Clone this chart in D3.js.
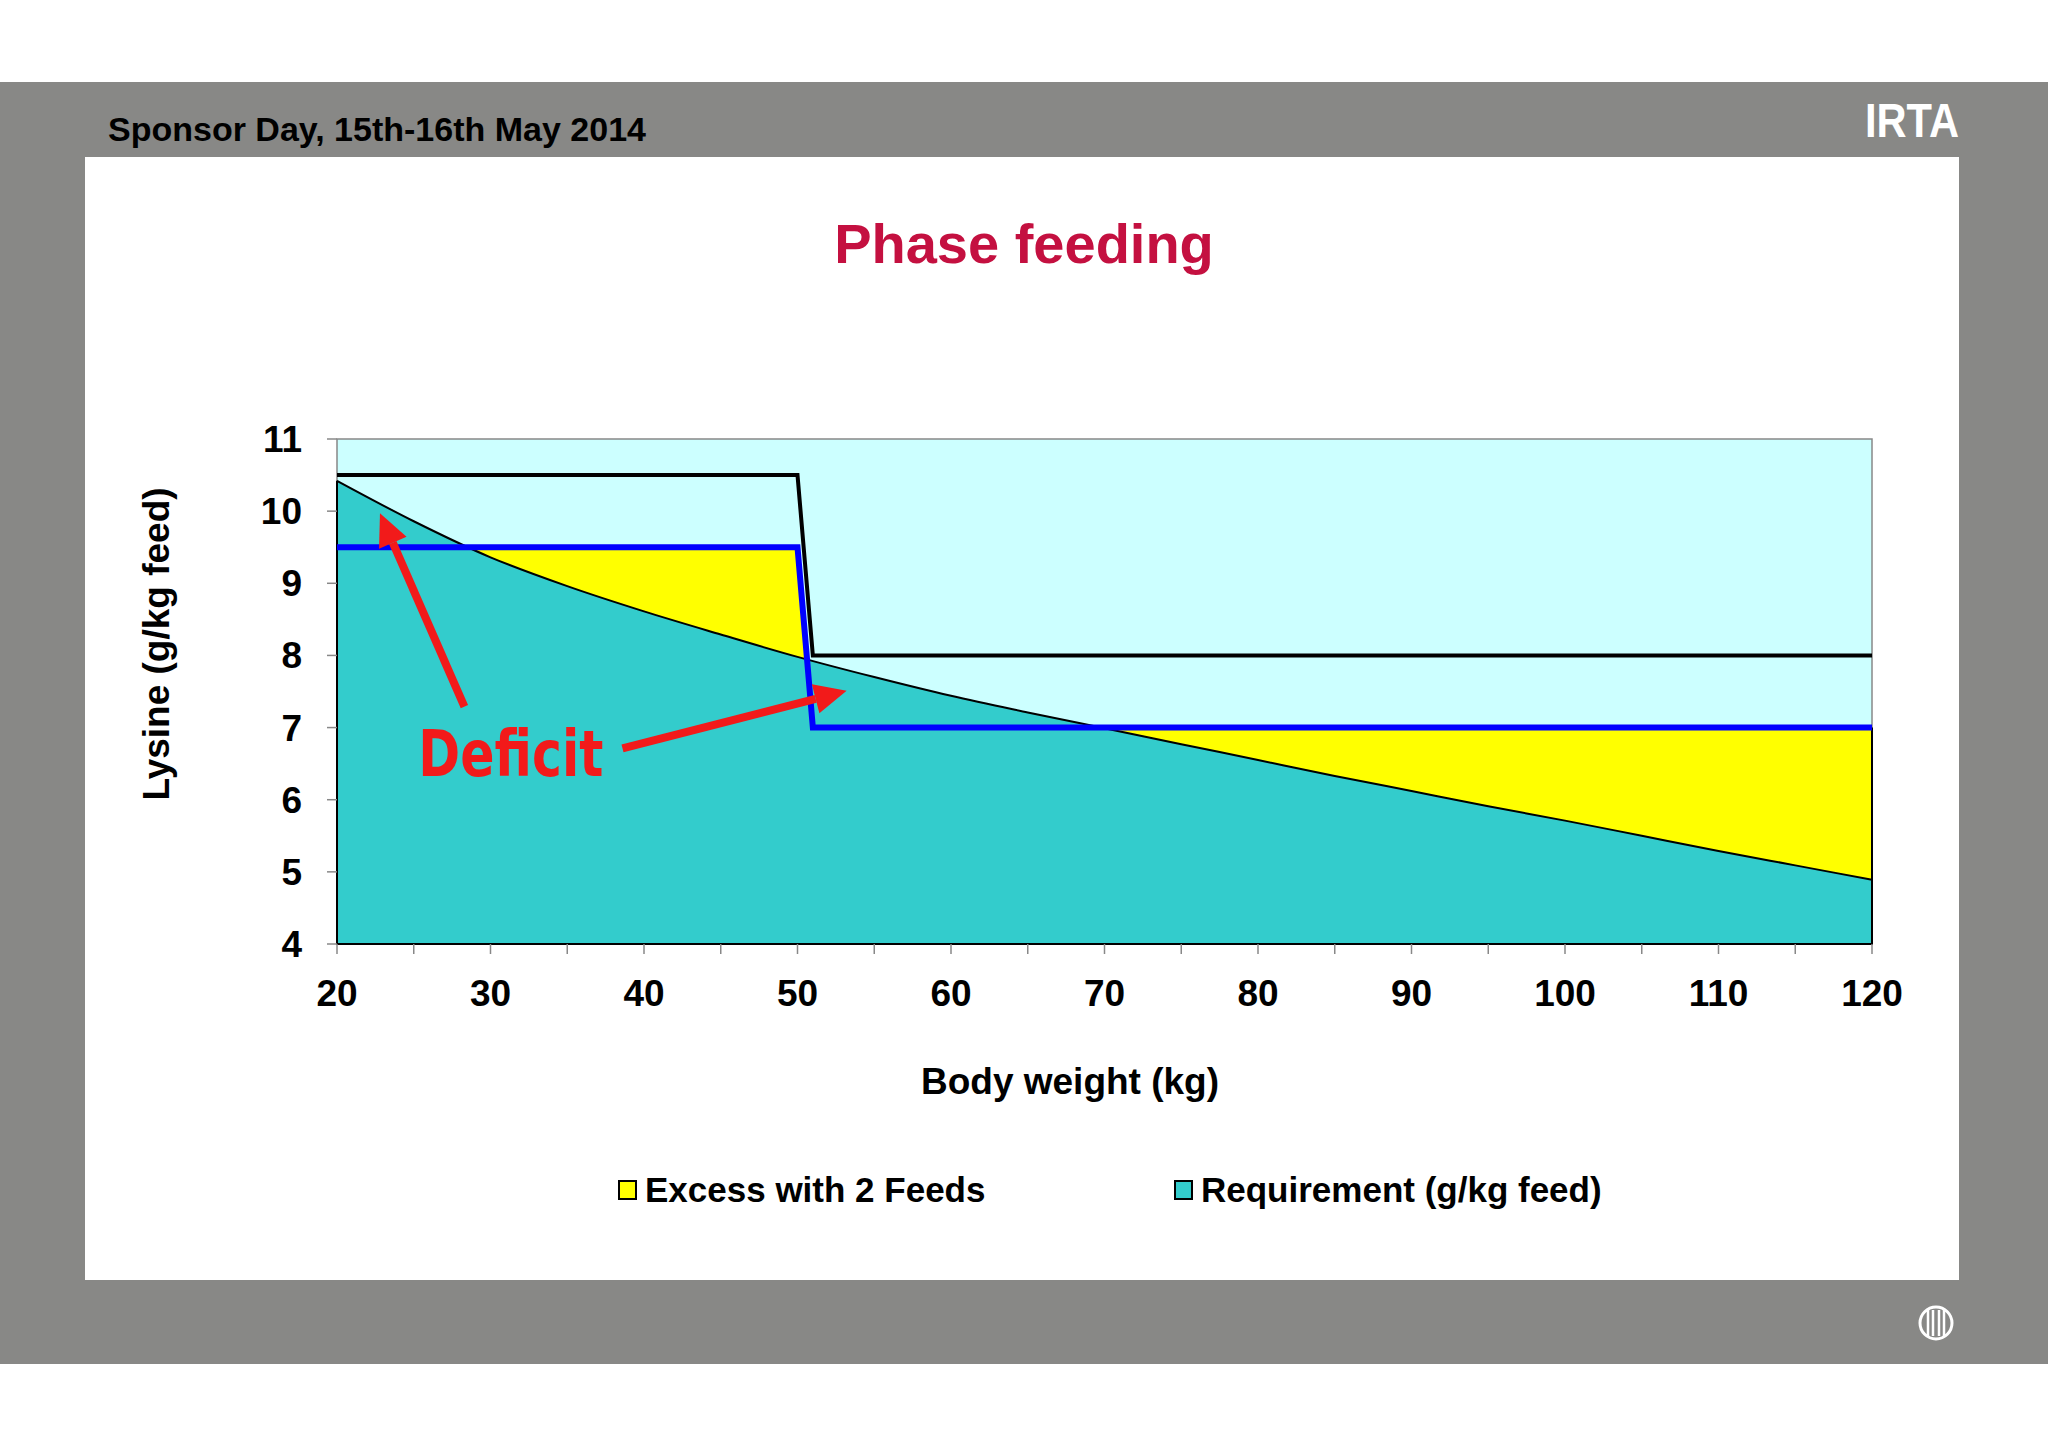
<!DOCTYPE html>
<html><head><meta charset="utf-8">
<script src="https://cdn.jsdelivr.net/npm/d3@7"></script>
<style>html,body{margin:0;padding:0;background:#fff;}svg{display:block;}</style>
</head><body>
<svg id="c" width="2048" height="1447"></svg>
<script>
// ---- data ----
const weights = [20,25,30,35,40,45,50,55,60,65,70,75,80,85,90,95,100,105,110,115,120];
const requirement = [10.42,9.86,9.36,8.96,8.61,8.29,7.98,7.70,7.44,7.21,6.99,6.77,6.55,6.33,6.12,5.91,5.71,5.50,5.29,5.09,4.89];
const twoFeedX = [20,50,51,120];
const maxLevel = [10.5,10.5,8,8];
const twoFeedLevel = [9.5,9.5,7,7];
const xTickLabels = [20,30,40,50,60,70,80,90,100,110,120];
const xMinorTicks = [20,25,30,35,40,45,50,55,60,65,70,75,80,85,90,95,100,105,110,115,120];
const yTickLabels = [4,5,6,7,8,9,10,11];
const legendLabels = ["Excess with 2 Feeds","Requirement (g/kg feed)"];

const svg = d3.select("#c");
const F = "'Liberation Sans', Arial, sans-serif";

// slide background
svg.append("rect").attr("x",0).attr("y",82).attr("width",2048).attr("height",1282).attr("fill","#888886");
svg.append("rect").attr("x",85).attr("y",157).attr("width",1874).attr("height",1123).attr("fill","#ffffff");
svg.append("text").attr("x",108).attr("y",141).attr("font-family",F).attr("font-weight","bold")
  .attr("font-size",33).attr("textLength",538).attr("lengthAdjust","spacingAndGlyphs").attr("fill","#000").text("Sponsor Day, 15th-16th May 2014");
svg.append("text").attr("x",1865).attr("y",137).attr("font-family",F).attr("font-weight","bold")
  .attr("font-size",48).attr("textLength",94).attr("lengthAdjust","spacingAndGlyphs").attr("fill","#fff").text("IRTA");
// emblem
const em = svg.append("g").attr("transform","translate(1936,1323)");
em.append("circle").attr("r",16).attr("fill","none").attr("stroke","#fff").attr("stroke-width",3);
[-8,-3,3,8].forEach(dx=>em.append("line").attr("x1",dx).attr("x2",dx).attr("y1",-13).attr("y2",13).attr("stroke","#fff").attr("stroke-width",2.5));

// title
svg.append("text").attr("x",1024).attr("y",263).attr("text-anchor","middle").attr("font-family",F)
  .attr("font-weight","bold").attr("font-size",56).attr("fill","#C41040").text("Phase feeding");

// scales
const x = d3.scaleLinear().domain([20,120]).range([337,1872]);
const y = d3.scaleLinear().domain([4,11]).range([944,439]);

// plot background
svg.append("rect").attr("x",x(20)).attr("y",y(11)).attr("width",x(120)-x(20)).attr("height",y(4)-y(11))
  .attr("fill","#CCFFFF").attr("stroke","#888").attr("stroke-width",1.5);

const feedPts = twoFeedX.map((d,i)=>[d,twoFeedLevel[i]]);
const maxPts = twoFeedX.map((d,i)=>[d,maxLevel[i]]);
const reqPts = weights.map((d,i)=>[d,requirement[i]]);

// excess (yellow) under 2-feed level
svg.append("path").datum(feedPts)
  .attr("d",d3.area().x(d=>x(d[0])).y0(y(4)).y1(d=>y(d[1])))
  .attr("fill","#FFFF00");
// requirement area
svg.append("path").datum(reqPts)
  .attr("d",d3.area().x(d=>x(d[0])).y0(y(4)).y1(d=>y(d[1])).curve(d3.curveMonotoneX))
  .attr("fill","#33CCCC");
// requirement outline
svg.append("path").datum(reqPts)
  .attr("d",d3.line().x(d=>x(d[0])).y(d=>y(d[1])).curve(d3.curveMonotoneX))
  .attr("fill","none").attr("stroke","#000").attr("stroke-width",2);
// area edges
svg.append("path").attr("d",`M${x(20)},${y(requirement[0])}V${y(4)}H${x(120)}V${y(twoFeedLevel[3])}`)
  .attr("fill","none").attr("stroke","#000").attr("stroke-width",2);

// step lines
const line = d3.line().x(d=>x(d[0])).y(d=>y(d[1]));
svg.append("path").datum(maxPts).attr("d",line).attr("fill","none").attr("stroke","#000").attr("stroke-width",4);
svg.append("path").datum(feedPts).attr("d",line).attr("fill","none").attr("stroke","#0000FF").attr("stroke-width",6);

// axes
const gx = svg.append("g").attr("transform",`translate(0,${y(4)})`);
gx.selectAll("line").data(xMinorTicks).join("line")
  .attr("x1",d=>x(d)).attr("x2",d=>x(d)).attr("y1",0).attr("y2",10).attr("stroke","#888").attr("stroke-width",1.5);
gx.selectAll("text").data(xTickLabels).join("text")
  .attr("x",d=>x(d)).attr("y",62).attr("text-anchor","middle").attr("font-family",F).attr("font-weight","bold")
  .attr("font-size",37).attr("fill","#000").text(d=>d);
const gy = svg.append("g").attr("transform",`translate(${x(20)},0)`);
gy.selectAll("line").data(yTickLabels).join("line")
  .attr("x1",-10).attr("x2",0).attr("y1",d=>y(d)).attr("y2",d=>y(d)).attr("stroke","#888").attr("stroke-width",1.5);
gy.selectAll("text").data(yTickLabels).join("text")
  .attr("x",-35).attr("y",d=>y(d)+13).attr("text-anchor","end").attr("font-family",F).attr("font-weight","bold")
  .attr("font-size",37).attr("fill","#000").text(d=>d);

// axis titles
svg.append("text").attr("x",1070).attr("y",1094).attr("text-anchor","middle").attr("font-family",F)
  .attr("font-weight","bold").attr("font-size",37).attr("fill","#000").text("Body weight (kg)");
svg.append("text").attr("transform","translate(169,644) rotate(-90)").attr("text-anchor","middle").attr("font-family",F)
  .attr("font-weight","bold").attr("font-size",37).attr("fill","#000").text("Lysine (g/kg feed)");

// legend
const legColors = ["#FFFF00","#33CCCC"];
const legX = [619,1175];
legendLabels.forEach((t,i)=>{
  svg.append("rect").attr("x",legX[i]).attr("y",1181).attr("width",17).attr("height",18)
    .attr("fill",legColors[i]).attr("stroke","#000").attr("stroke-width",2);
  svg.append("text").attr("x",legX[i]+26).attr("y",1202).attr("font-family",F).attr("font-weight","bold")
    .attr("font-size",35).attr("fill","#000").text(t);
});

// annotation
const red = "#F21A1A";
function arrow(x1,y1,x2,y2){
  const X1=x(x1),Y1=y(y1),X2=x(x2),Y2=y(y2);
  const a=Math.atan2(Y2-Y1,X2-X1), L=32, W=15;
  const bx=X2-L*Math.cos(a), by=Y2-L*Math.sin(a);
  svg.append("line").attr("x1",X1).attr("y1",Y1).attr("x2",bx).attr("y2",by).attr("stroke",red).attr("stroke-width",8);
  svg.append("path").attr("d",`M${X2},${Y2}L${bx+W*Math.sin(a)},${by-W*Math.cos(a)}L${bx-W*Math.sin(a)},${by+W*Math.cos(a)}Z`).attr("fill",red);
}
arrow(28.3,7.29,22.8,9.97);
arrow(38.6,6.71,53.2,7.51);
svg.append("text").attr("x",x(25.3)).attr("y",y(6.33)).attr("font-family","'Comic Sans MS','DejaVu Sans',sans-serif")
  .attr("font-weight","bold").attr("font-size",64).attr("textLength",185).attr("lengthAdjust","spacingAndGlyphs")
  .attr("fill",red).text("Deficit");
</script>
</body></html>
